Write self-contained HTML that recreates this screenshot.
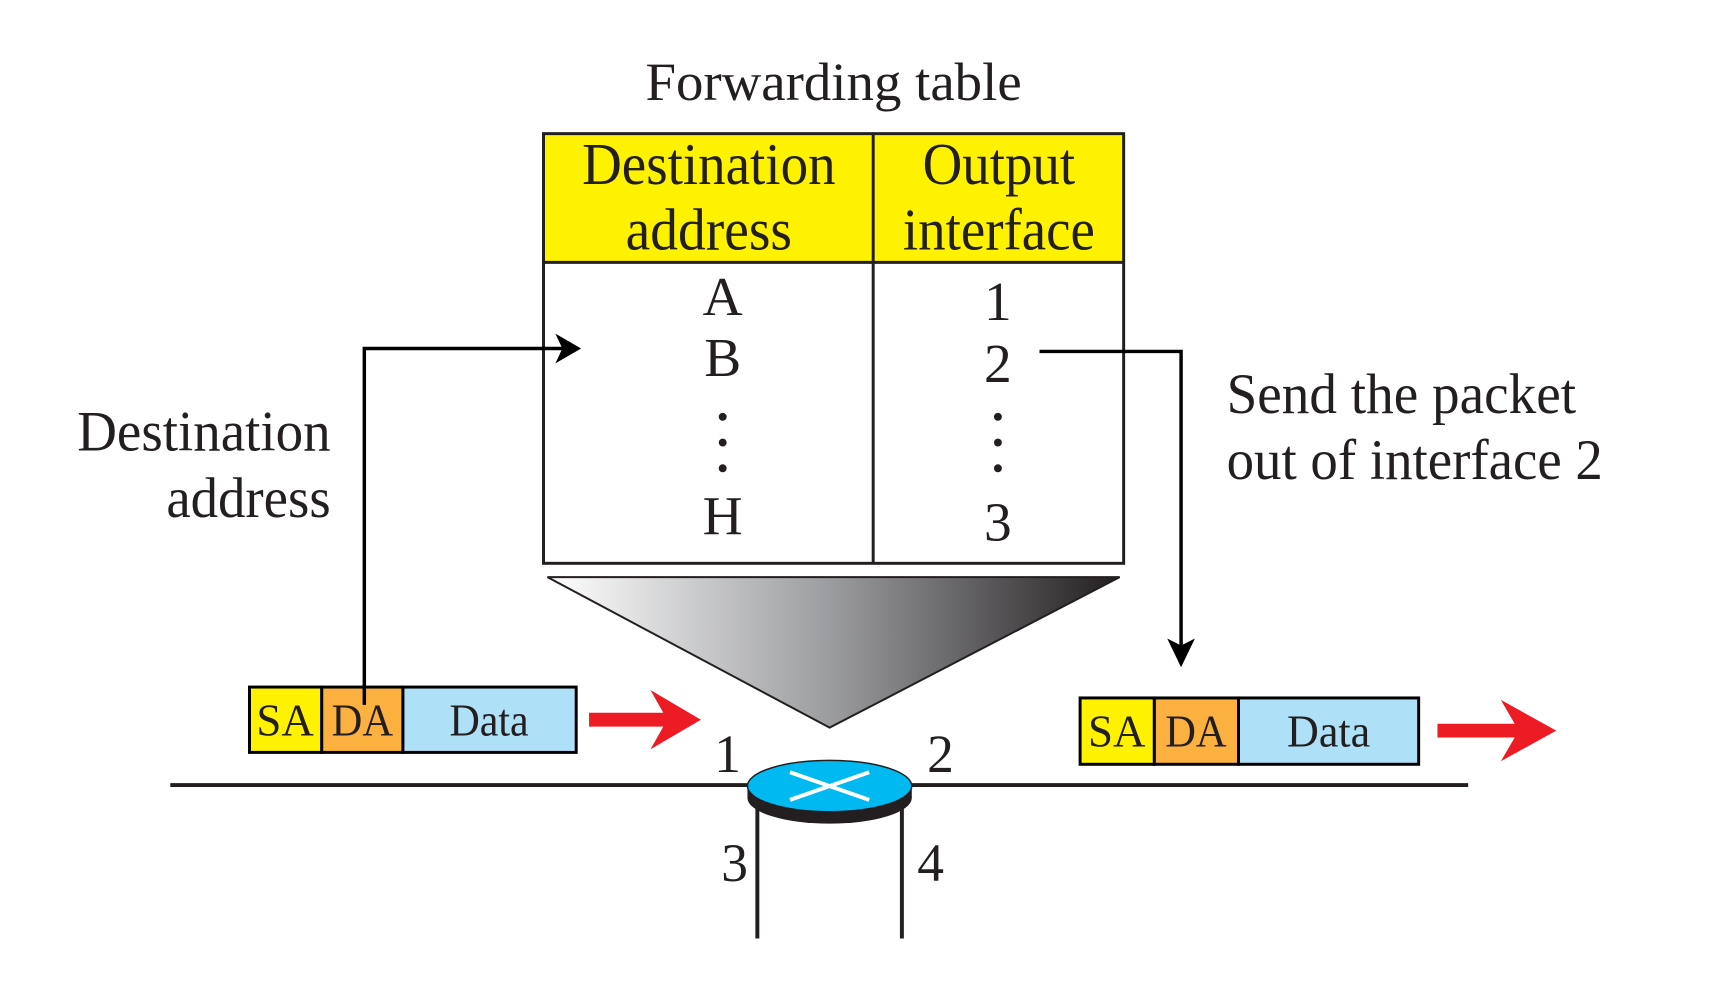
<!DOCTYPE html>
<html><head><meta charset="utf-8"><style>
html,body{margin:0;padding:0;background:#fff;}
svg{display:block;}
text{font-family:"Liberation Serif",serif;fill:#231f20;}
</style></head><body>
<svg width="1714" height="1000" viewBox="0 0 1714 1000" xmlns="http://www.w3.org/2000/svg">
<defs>
<linearGradient id="g" x1="0" y1="0" x2="1" y2="0">
<stop offset="0" stop-color="#ffffff"/><stop offset="0.5" stop-color="#9a9b9e"/><stop offset="1" stop-color="#231f20"/>
</linearGradient>
</defs>
<g transform="scale(0.99)">
<text x="842" y="101" font-size="54" text-anchor="middle" textLength="380" lengthAdjust="spacingAndGlyphs">Forwarding table</text>
<rect x="549" y="135" width="586" height="130" fill="#fff200"/>
<rect x="549" y="135" width="586" height="434" fill="none" stroke="#231f20" stroke-width="3"/>
<line x1="549" y1="265" x2="1135" y2="265" stroke="#231f20" stroke-width="3"/>
<line x1="882" y1="135" x2="882" y2="569" stroke="#231f20" stroke-width="3"/>
<text x="716" y="186" font-size="60" text-anchor="middle" textLength="256" lengthAdjust="spacingAndGlyphs">Destination</text>
<text x="716" y="252" font-size="60" text-anchor="middle" textLength="168" lengthAdjust="spacingAndGlyphs">address</text>
<text x="1009" y="186" font-size="60" text-anchor="middle" textLength="154" lengthAdjust="spacingAndGlyphs">Output</text>
<text x="1009" y="252" font-size="60" text-anchor="middle" textLength="194" lengthAdjust="spacingAndGlyphs">interface</text>
<g font-size="56" text-anchor="middle">
<text x="730" y="318">A</text><text x="730" y="380">B</text><text x="730" y="540">H</text>
<text x="1008" y="323">1</text><text x="1008" y="386">2</text><text x="1008" y="546">3</text>
</g>
<g fill="#231f20">
<circle cx="730" cy="421" r="4"/><circle cx="730" cy="447" r="4"/><circle cx="730" cy="473" r="4"/>
<circle cx="1008" cy="421" r="4"/><circle cx="1008" cy="447" r="4"/><circle cx="1008" cy="473" r="4"/>
</g>
<polyline points="368,694 368,352 575,352" fill="none" stroke="#000" stroke-width="3.5"/>
<polygon points="587,352 561,337 568,352 561,367" fill="#000"/>
<polyline points="1050,355 1193,355 1193,660" fill="none" stroke="#000" stroke-width="3.5"/>
<polygon points="1193,674 1179,645 1193,652 1207,645" fill="#000"/>
<text x="334" y="455" font-size="58" text-anchor="end" textLength="256" lengthAdjust="spacingAndGlyphs">Destination</text>
<text x="334" y="522" font-size="58" text-anchor="end" textLength="166" lengthAdjust="spacingAndGlyphs">address</text>
<text x="1239" y="417" font-size="58" textLength="353" lengthAdjust="spacingAndGlyphs">Send the packet</text>
<text x="1239" y="484" font-size="58" textLength="380" lengthAdjust="spacingAndGlyphs">out of interface 2</text>
<polygon points="553,583 1131,583 838,735" fill="url(#g)" stroke="#231f20" stroke-width="2"/>
<g stroke="#000" stroke-width="3">
<rect x="252" y="694" width="73" height="66" fill="#fff200"/>
<rect x="325" y="694" width="82" height="66" fill="#fbb040"/>
<rect x="407" y="694" width="175" height="66" fill="#aee0f8"/>
<rect x="1091" y="705" width="75" height="67" fill="#fff200"/>
<rect x="1166" y="705" width="85" height="67" fill="#fbb040"/>
<rect x="1251" y="705" width="182" height="67" fill="#aee0f8"/>
</g>
<line x1="368" y1="694" x2="368" y2="712" stroke="#000" stroke-width="3.5"/>
<g font-size="46" text-anchor="middle">
<text x="288" y="743" textLength="58" lengthAdjust="spacingAndGlyphs">SA</text>
<text x="366" y="743" textLength="62" lengthAdjust="spacingAndGlyphs">DA</text>
<text x="494" y="743" textLength="80" lengthAdjust="spacingAndGlyphs">Data</text>
<text x="1128" y="754" textLength="58" lengthAdjust="spacingAndGlyphs">SA</text>
<text x="1208" y="754" textLength="62" lengthAdjust="spacingAndGlyphs">DA</text>
<text x="1342" y="754" textLength="84" lengthAdjust="spacingAndGlyphs">Data</text>
</g>
<g fill="#ed1c24">
<polygon points="595,720 670,720 657,697 708,727 657,757 670,734 595,734"/>
<polygon points="1452,731 1530,731 1516,707 1572,738 1516,769 1530,745 1452,745"/>
</g>
<line x1="172" y1="793" x2="1483" y2="793" stroke="#231f20" stroke-width="4"/>
<line x1="765" y1="808" x2="765" y2="948" stroke="#231f20" stroke-width="4"/>
<line x1="911" y1="808" x2="911" y2="948" stroke="#231f20" stroke-width="4"/>
<ellipse cx="838" cy="806" rx="83" ry="26" fill="#231f20"/>
<rect x="755" y="794" width="166" height="12" fill="#231f20"/>
<ellipse cx="838" cy="794" rx="83" ry="26" fill="#00b9f1" stroke="#231f20" stroke-width="1.5"/>
<g stroke="#fff" stroke-width="4"><line x1="798" y1="780" x2="878" y2="808"/><line x1="798" y1="808" x2="878" y2="780"/></g>
<g font-size="54" text-anchor="middle">
<text x="735" y="780">1</text><text x="950" y="780">2</text>
<text x="742" y="890">3</text><text x="940" y="890">4</text>
</g>
</g>
</svg>
</body></html>
